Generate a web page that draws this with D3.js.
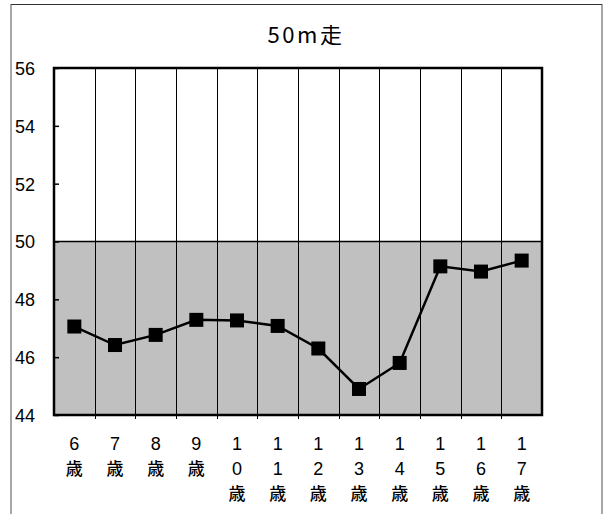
<!DOCTYPE html>
<html><head><meta charset="utf-8">
<script src="https://cdn.jsdelivr.net/npm/d3@7"></script>
<style>body{margin:0;background:#fff}svg{display:block}</style>
</head><body>
<svg id="c" width="608" height="514"></svg>
<script>
const categories = ["6歳","7歳","8歳","9歳","10歳","11歳","12歳","13歳","14歳","15歳","16歳","17歳"];
const values = [47.06, 46.42, 46.77, 47.29, 47.27, 47.08, 46.3, 44.9, 45.8, 49.14, 48.96, 49.34];
const yTicks = [44, 46, 48, 50, 52, 54, 56];
const bandRange = [44, 50];
const title = "50m走";

const svg = d3.select("#c");
const m = {l: 54, r: 542, t: 68, b: 415};
const x = d3.scaleBand().domain(categories).range([m.l, m.r]);
const y = d3.scaleLinear().domain([44, 56]).range([m.b, m.t]);

// outer frame
svg.append("line").attr("x1",11).attr("x2",11).attr("y1",4).attr("y2",514).attr("stroke","#8a8a8a").attr("stroke-width",1.5);
svg.append("line").attr("x1",602).attr("x2",602).attr("y1",4).attr("y2",514).attr("stroke","#8a8a8a").attr("stroke-width",1.5);
svg.append("line").attr("x1",11).attr("x2",602).attr("y1",4.5).attr("y2",4.5).attr("stroke","#333").attr("stroke-width",1);

// title
svg.append("text").attr("x",306).attr("y",43).attr("text-anchor","middle")
  .attr("font-family","'Noto Sans CJK JP', sans-serif").attr("font-size",22).attr("letter-spacing","2.5px")
  .text(title);

// band
svg.append("rect").attr("x",m.l).attr("y",y(bandRange[1])).attr("width",m.r-m.l).attr("height",y(bandRange[0])-y(bandRange[1])).attr("fill","#c0c0c0");
svg.append("line").attr("x1",m.l).attr("x2",m.r).attr("y1",y(50)).attr("y2",y(50)).attr("stroke","#000").attr("stroke-width",1.5);

// vertical gridlines
svg.append("g").selectAll("line").data(categories.slice(1)).join("line")
  .attr("x1",d=>Math.round(x(d))+0.5).attr("x2",d=>Math.round(x(d))+0.5)
  .attr("y1",m.t).attr("y2",m.b+4).attr("stroke","#000").attr("stroke-width",1);

// y axis
const ya = d3.axisLeft(y).tickValues(yTicks).tickSize(-5).tickPadding(0).tickFormat(d3.format("d"));
const yg = svg.append("g").attr("transform",`translate(${m.l},0)`).call(ya);
yg.select(".domain").remove();
yg.selectAll("line").attr("stroke","#000").attr("stroke-width",1.5);
yg.selectAll("text").attr("x",-39).attr("text-anchor","start").attr("dy","0.36em")
  .attr("font-family","'Liberation Sans', Arial, sans-serif").attr("font-size",18).attr("fill","#000");

// plot border
svg.append("rect").attr("x",m.l).attr("y",m.t).attr("width",m.r-m.l).attr("height",m.b-m.t)
  .attr("fill","none").attr("stroke","#000").attr("stroke-width",2.5);

// x labels (vertical stacked characters)
const xl = svg.append("g").selectAll("text").data(categories).join("text")
  .attr("x",d=>x(d)+x.bandwidth()/2).attr("y",450).attr("text-anchor","middle")
  .attr("font-family","'Liberation Sans', 'Noto Sans CJK JP', sans-serif").attr("font-size",17).attr("fill","#000");
xl.each(function(d){
  const chars = Array.from(d);
  const t = d3.select(this);
  chars.forEach((c,i)=>{
    const digit = /[0-9]/.test(c);
    t.append("tspan").attr("x",x(d)+x.bandwidth()/2).attr("y",450+i*25)
     .attr("font-family", digit ? "'Liberation Sans', sans-serif" : "'Noto Sans CJK JP', sans-serif")
     .attr("font-size", digit ? 18 : 17)
     .attr("font-weight", digit ? 400 : 500)
     .text(c);
  });
});

// line
const line = d3.line().x((d,i)=>x(categories[i])+x.bandwidth()/2).y(d=>y(d));
svg.append("path").datum(values).attr("d",line).attr("fill","none").attr("stroke","#000").attr("stroke-width",2.5);
svg.append("g").selectAll("rect").data(values).join("rect")
  .attr("x",(d,i)=>x(categories[i])+x.bandwidth()/2-7).attr("y",d=>y(d)-7)
  .attr("width",14).attr("height",14).attr("fill","#000");
</script>
</body></html>
